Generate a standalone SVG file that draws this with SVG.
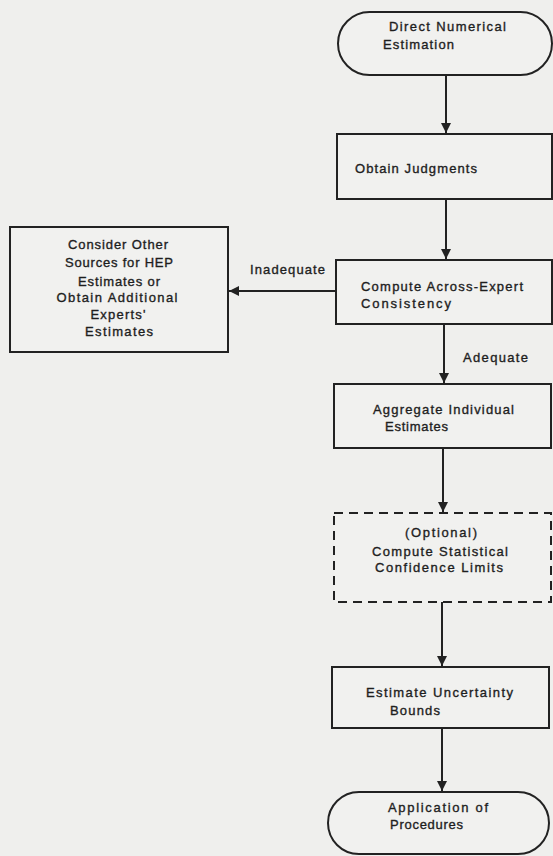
<svg xmlns="http://www.w3.org/2000/svg" width="553" height="856" viewBox="0 0 553 856">
<style>
.bg{fill:#efefed}
.box{fill:#f1f1ef;stroke:#222;stroke-width:2}
.dash{fill:#f1f1ef;stroke:#222;stroke-width:2;stroke-dasharray:9 6}
.t{font-family:"Liberation Sans",Arial,sans-serif;font-size:13px;fill:#1e1e1e;stroke:#1e1e1e;stroke-width:0.35}
.c{text-anchor:middle}
.ln{stroke:#222;stroke-width:2;fill:none}
</style>
<defs>
<marker id="ah" viewBox="0 0 10 10" refX="10" refY="5" markerWidth="6" markerHeight="5" markerUnits="strokeWidth" orient="auto">
<path d="M0,0 L10,5 L0,10 z" fill="#222"/>
</marker>
</defs>
<rect class="bg" x="0" y="0" width="553" height="856"/>
<g id="connectors">
<line class="ln" x1="446" y1="75" x2="446" y2="133" marker-end="url(#ah)"/>
<line class="ln" x1="446" y1="199" x2="446" y2="259" marker-end="url(#ah)"/>
<line class="ln" x1="336" y1="291" x2="229" y2="291" marker-end="url(#ah)"/>
<line class="ln" x1="444" y1="324" x2="444" y2="383" marker-end="url(#ah)"/>
<line class="ln" x1="443" y1="448" x2="443" y2="512" marker-end="url(#ah)"/>
<line class="ln" x1="442" y1="602" x2="442" y2="666" marker-end="url(#ah)"/>
<line class="ln" x1="442" y1="728" x2="442" y2="791" marker-end="url(#ah)"/>
<text class="t" x="250" y="274" textLength="75" lengthAdjust="spacing">Inadequate</text>
<text class="t" x="463" y="362" textLength="65" lengthAdjust="spacing">Adequate</text>
</g>
<g id="start">
<rect class="box" x="338" y="12" width="214" height="63" rx="31.5"/>
<text class="t" x="389" y="31" textLength="117" lengthAdjust="spacing">Direct Numerical</text>
<text class="t" x="383" y="49" textLength="71" lengthAdjust="spacing">Estimation</text>
</g>
<g id="obtain">
<rect class="box" x="337" y="134" width="215" height="65"/>
<text class="t" x="355" y="173" textLength="122" lengthAdjust="spacing">Obtain Judgments</text>
</g>
<g id="compute">
<rect class="box" x="336" y="260" width="216" height="64"/>
<text class="t" x="361" y="291" textLength="162" lengthAdjust="spacing">Compute Across-Expert</text>
<text class="t" x="361" y="308" textLength="90" lengthAdjust="spacing">Consistency</text>
</g>
<g id="consider">
<rect class="box" x="10" y="227" width="218" height="125"/>
<text class="t c" x="118" y="249" textLength="100" lengthAdjust="spacing">Consider Other</text>
<text class="t c" x="119" y="267" textLength="108" lengthAdjust="spacing">Sources for HEP</text>
<text class="t c" x="119" y="286" textLength="82" lengthAdjust="spacing">Estimates or</text>
<text class="t c" x="117" y="302" textLength="121" lengthAdjust="spacing">Obtain Additional</text>
<text class="t c" x="118" y="319" textLength="55" lengthAdjust="spacing">Experts'</text>
<text class="t c" x="119" y="336" textLength="68" lengthAdjust="spacing">Estimates</text>
</g>
<g id="aggregate">
<rect class="box" x="334" y="384" width="217" height="64"/>
<text class="t" x="373" y="414" textLength="141" lengthAdjust="spacing">Aggregate Individual</text>
<text class="t" x="385" y="431" textLength="63" lengthAdjust="spacing">Estimates</text>
</g>
<g id="optional">
<rect class="dash" x="334" y="513" width="217" height="89"/>
<text class="t c" x="441" y="537" textLength="72" lengthAdjust="spacing">(Optional)</text>
<text class="t c" x="440" y="556" textLength="136" lengthAdjust="spacing">Compute Statistical</text>
<text class="t c" x="439" y="572" textLength="128" lengthAdjust="spacing">Confidence Limits</text>
</g>
<g id="uncertainty">
<rect class="box" x="332" y="667" width="217" height="61"/>
<text class="t" x="366" y="697" textLength="147" lengthAdjust="spacing">Estimate Uncertainty</text>
<text class="t" x="390" y="715" textLength="50" lengthAdjust="spacing">Bounds</text>
</g>
<g id="end">
<rect class="box" x="328" y="792" width="221" height="62" rx="31"/>
<text class="t" x="388" y="812" textLength="100" lengthAdjust="spacing">Application of</text>
<text class="t" x="390" y="829" textLength="73" lengthAdjust="spacing">Procedures</text>
</g>
</svg>
